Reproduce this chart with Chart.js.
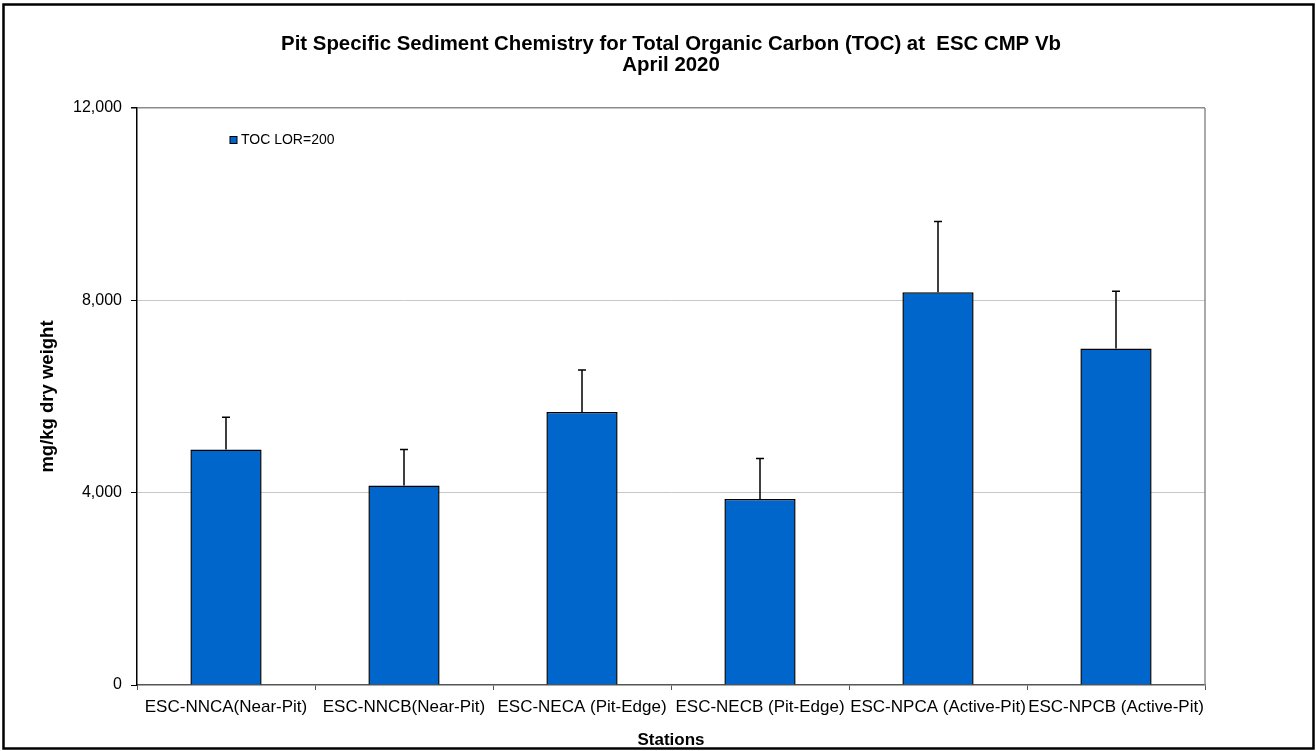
<!DOCTYPE html>
<html>
<head>
<meta charset="utf-8">
<script src="https://cdn.jsdelivr.net/npm/chart.js@4.4.1/dist/chart.umd.min.js"></script>
<style>
html,body{margin:0;padding:0;background:#fff;}
#wrap{width:1316px;height:751px;position:relative;}
</style>
</head>
<body>
<div id="wrap"><canvas id="c" width="1316" height="751"></canvas></div>
<script>
const titleLines = ["Pit Specific Sediment Chemistry for Total Organic Carbon (TOC) at  ESC CMP Vb", "April 2020"];
const stations = ["ESC-NNCA(Near-Pit)", "ESC-NNCB(Near-Pit)", "ESC-NECA (Pit-Edge)", "ESC-NECB (Pit-Edge)", "ESC-NPCA (Active-Pit)", "ESC-NPCB (Active-Pit)"];
const tocValues = [4900, 4150, 5680, 3870, 8170, 7000];
const tocErrors = [670, 750, 870, 840, 1470, 1190];
const seriesLabel = "TOC LOR=200";
const yTicks = [0, 4000, 8000, 12000];
const yTitle = "mg/kg dry weight";
const xTitle = "Stations";

const FONT = "'Liberation Sans', Arial, sans-serif";

const errorBarPlugin = {
  id: 'errorBars',
  afterDatasetsDraw(chart) {
    const ctx = chart.ctx;
    const meta = chart.getDatasetMeta(0);
    const y = chart.scales.y;
    ctx.save();
    ctx.strokeStyle = '#000';
    ctx.lineWidth = 1.5;
    meta.data.forEach((bar, i) => {
      const x = bar.x;
      const yTop = y.getPixelForValue(tocValues[i] + tocErrors[i]);
      const yBase = y.getPixelForValue(tocValues[i]);
      ctx.beginPath();
      ctx.moveTo(x, yBase);
      ctx.lineTo(x, yTop);
      ctx.moveTo(x - 4, yTop);
      ctx.lineTo(x + 4, yTop);
      ctx.stroke();
    });
    ctx.restore();
  }
};

const framePlugin = {
  id: 'frame',
  afterDraw(chart) {
    const ctx = chart.ctx;
    const a = chart.chartArea;
    ctx.save();
    ctx.strokeStyle = '#8c8c8c';
    ctx.lineWidth = 1.5;
    ctx.beginPath();
    ctx.moveTo(a.right, a.top);
    ctx.lineTo(a.right, a.bottom);
    ctx.stroke();
    const ds = chart.data.datasets[0];
    ctx.fillStyle = ds.backgroundColor;
    ctx.fillRect(230, 136.5, 7, 7);
    ctx.strokeStyle = '#000';
    ctx.lineWidth = 1;
    ctx.strokeRect(230, 136.5, 7, 7);
    ctx.fillStyle = '#000';
    ctx.font = "14px " + FONT;
    ctx.textBaseline = 'middle';
    ctx.textAlign = 'left';
    ctx.fillText(ds.label, 241, 140.5);
    ctx.strokeStyle = '#000';
    ctx.lineWidth = 2.5;
    ctx.strokeRect(3.5, 4.5, 1310, 744);
    ctx.restore();
  }
};

new Chart(document.getElementById('c'), {
  type: 'bar',
  data: {
    labels: stations,
    datasets: [{
      label: seriesLabel,
      data: tocValues,
      backgroundColor: '#0066CC',
      borderColor: '#000',
      borderWidth: 1.5,
      barPercentage: 0.4,
      categoryPercentage: 1.0
    }]
  },
  options: {
    responsive: false,
    animation: false,
    devicePixelRatio: 1,
    layout: { padding: { left: 0, right: 111, top: 0, bottom: 0 } },
    plugins: {
      legend: { display: false },
      tooltip: { enabled: false },
      title: {
        display: true,
        fullSize: false,
        text: titleLines,
        color: '#000',
        font: { family: FONT, size: 20.4, weight: 'bold', lineHeight: 1.05 },
        padding: { top: 33.5, bottom: 31.7 }
      }
    },
    scales: {
      x: {
        grid: { display: true, drawOnChartArea: false, drawTicks: true, tickLength: 5, tickColor: '#555', offset: true },
        border: { color: '#555', width: 1.5 },
        ticks: { color: '#000', font: { family: FONT, size: 17 }, autoSkip: false, maxRotation: 0, minRotation: 0, padding: 7 },
        title: { display: true, text: xTitle, color: '#000', font: { family: FONT, size: 17, weight: 'bold' }, padding: { top: 0, bottom: 0 } },
        afterFit(s) { s.height = 66; }
      },
      y: {
        min: 0, max: 12000,
        afterBuildTicks(s) { s.ticks = yTicks.map(v => ({ value: v })); },
        grid: {
          color: ctx => (ctx.tick && ctx.tick.value === 12000) ? '#8c8c8c' : (ctx.tick && ctx.tick.value === 0 ? 'rgba(0,0,0,0)' : '#c8c8c8'),
          lineWidth: ctx => (ctx.tick && ctx.tick.value === 12000) ? 1.5 : 1,
          tickColor: '#000', tickLength: 6
        },
        border: { color: '#000', width: 1.5 },
        ticks: {
          color: '#000', font: { family: FONT, size: 16 }, padding: 9,
          callback: v => v.toLocaleString('en-US')
        },
        title: { display: true, text: yTitle, color: '#000', font: { family: FONT, size: 18.5, weight: 'bold' }, padding: { top: 37, bottom: 0 } },
        afterFit(s) { s.width = 137; }
      }
    }
  },
  plugins: [errorBarPlugin, framePlugin]
});
</script>
</body>
</html>
